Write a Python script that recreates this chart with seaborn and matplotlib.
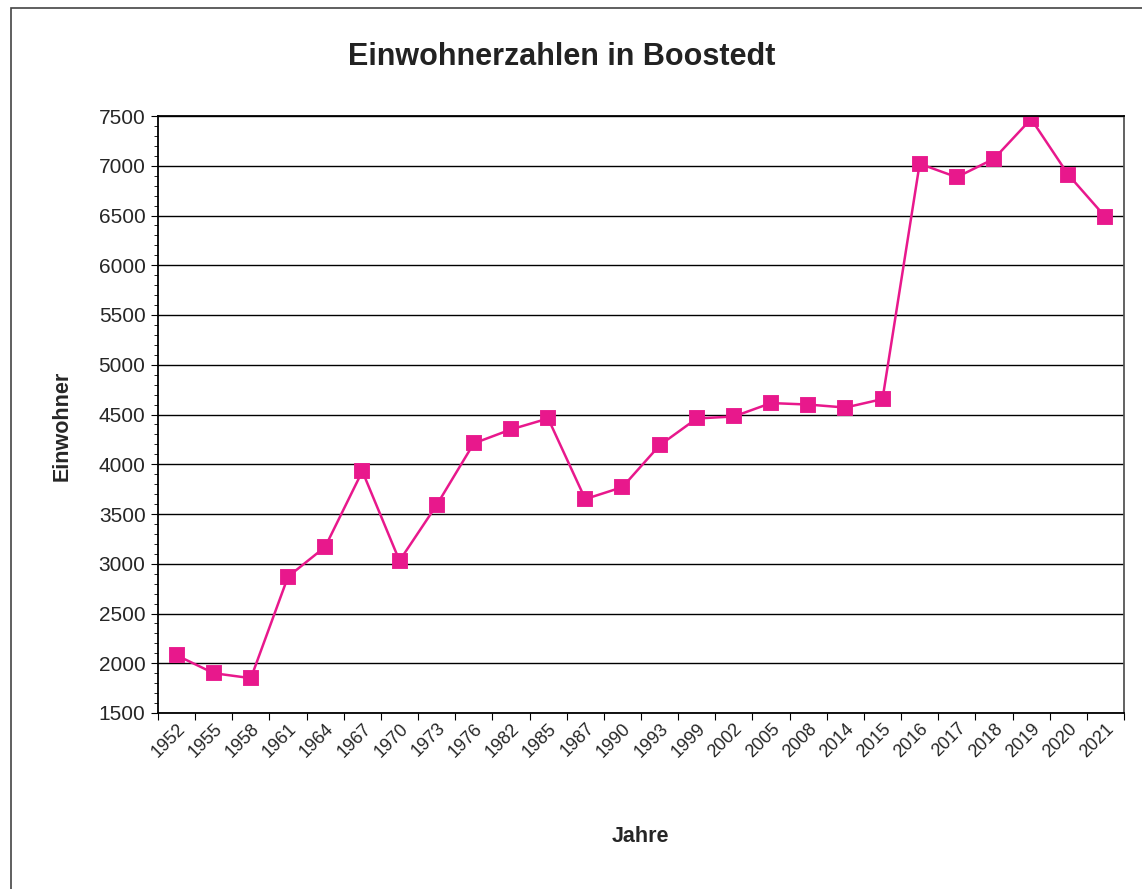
import numpy as np
import pandas as pd
import matplotlib
matplotlib.use("Agg")
import matplotlib.pyplot as plt
import seaborn as sns
from matplotlib.ticker import MultipleLocator, FixedLocator
from matplotlib.patches import Rectangle

# ======================================
# DATA
# ======================================

years = ["1952", "1955", "1958", "1961", "1964", "1967", "1970", "1973", "1976",
         "1982", "1985", "1987", "1990", "1993", "1999", "2002", "2005", "2008",
         "2014", "2015", "2016", "2017", "2018", "2019", "2020", "2021"]
einwohner = [2080, 1900, 1850, 2870, 3170, 3930, 3030, 3590, 4210,
             4350, 4460, 3650, 3770, 4190, 4460, 4480, 4615, 4600,
             4570, 4655, 7020, 6885, 7070, 7470, 6910, 6485]

df = pd.DataFrame({"Jahr": years, "Einwohner": einwohner})

# ======================================
# PLOT
# ======================================

sns.set_style("white")
plt.rcParams["font.family"] = ["Liberation Sans", "DejaVu Sans"]

fig = plt.figure(figsize=(11.42, 8.89), dpi=100)
ax = fig.add_axes([158 / 1142, 1 - 713 / 889, 966 / 1142, 597 / 889])

pink = "#e8188c"
sns.pointplot(data=df, x="Jahr", y="Einwohner", ax=ax, color=pink,
              markers="s", linestyles="-", markersize=10.5, linewidth=1.8,
              errorbar=None)

ax.set_xlim(-0.5, len(years) - 0.5)
ax.set_ylim(1500, 7500)
ax.yaxis.set_major_locator(MultipleLocator(500))
ax.yaxis.set_minor_locator(MultipleLocator(100))
ax.grid(axis="y", color="black", linewidth=1.0)
ax.grid(axis="x", visible=False)
ax.set_axisbelow(True)

# ticks between categories like the original
ax.xaxis.set_minor_locator(FixedLocator(np.arange(-0.5, len(years), 1.0)))
ax.tick_params(axis="x", which="major", length=0, labelsize=13, pad=5)
ax.tick_params(axis="x", which="minor", length=5, width=0.8, color="black",
               direction="out", bottom=True)
ax.tick_params(axis="y", which="major", length=5, width=0.8, color="black",
               left=True, labelsize=15, pad=4)
ax.tick_params(axis="y", which="minor", length=3, width=0.6, color="black",
               left=True)
plt.setp(ax.get_xticklabels(), rotation=45, ha="right", rotation_mode="anchor")

for side in ["left", "bottom", "top"]:
    ax.spines[side].set_color("black")
    ax.spines[side].set_linewidth(1.3)
ax.spines["right"].set_color("#555555")
ax.spines["right"].set_linewidth(1.3)

ax.set_xlabel("")
ax.set_ylabel("")
fig.text(640 / 1142, 1 - 836 / 889, "Jahre", fontsize=15.5, fontweight="bold",
         ha="center", va="center")
fig.text(62 / 1142, 1 - 426 / 889, "Einwohner", fontsize=15.5, fontweight="bold",
         rotation=90, ha="center", va="center")
fig.text(562 / 1142, 1 - 57 / 889, "Einwohnerzahlen in Boostedt", fontsize=22,
         fontweight="bold", ha="center", va="center", color="#222222")

# outer chart frame
fig.patches.append(Rectangle((11 / 1142, -0.1), 1.2, 1 - 8 / 889 + 0.1,
                             transform=fig.transFigure, fill=False,
                             edgecolor="#444444", linewidth=1.2))

fig.savefig("out.png", dpi=100)
